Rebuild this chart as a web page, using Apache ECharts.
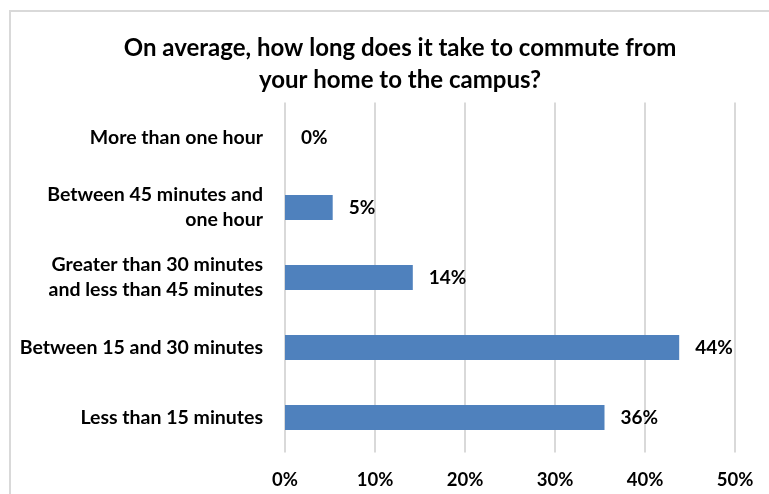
<!DOCTYPE html>
<html>
<head>
<meta charset="utf-8">
<script src="https://cdn.jsdelivr.net/npm/echarts@6/dist/echarts.min.js"></script>
<style>
html,body{margin:0;padding:0;background:#fff;}
#chart{width:769px;height:494px;}
</style>
</head>
<body>
<div id="chart"></div>
<script>
const titleText = "On average, how long does it take to commute from\nyour home to the campus?";
const categories = [
  "Less than 15 minutes",
  "Between 15 and 30 minutes",
  "Greater than 30 minutes\nand less than 45 minutes",
  "Between 45 minutes and\none hour",
  "More than one hour"
];
const values = [35.5, 43.8, 14.2, 5.3, 0];
const xTicks = [0, 10, 20, 30, 40, 50];

const FONT = "Lato";
const chart = echarts.init(document.getElementById('chart'), null, {renderer: 'canvas'});
chart.setOption({
  backgroundColor: '#ffffff',
  animation: false,
  title: {
    text: titleText,
    left: 395,
    textAlign: 'center',
    top: 27,
    textStyle: {fontFamily: FONT, fontWeight: 'bold', fontSize: 24, color: '#000', lineHeight: 32}
  },
  graphic: [{
    type: 'rect',
    shape: {x: 10, y: 11, width: 800, height: 520},
    style: {fill: 'none', stroke: '#d9d9d9', lineWidth: 2},
    silent: true
  }],
  grid: {left: 285, right: 34, top: 102.5, bottom: 41.5, containLabel: false},
  xAxis: {
    type: 'value',
    min: xTicks[0],
    max: xTicks[xTicks.length - 1],
    interval: xTicks[1] - xTicks[0],
    axisLine: {show: false},
    axisTick: {show: false},
    splitLine: {show: true, lineStyle: {color: '#d9d9d9', width: 2}},
    axisLabel: {
      formatter: '{value}%',
      fontFamily: FONT, fontWeight: 'bold', fontSize: 18.5, color: '#000', margin: 18
    }
  },
  yAxis: {
    type: 'category',
    data: categories,
    axisLine: {show: false},
    axisTick: {show: false},
    axisLabel: {
      fontFamily: FONT, fontWeight: 'bold', fontSize: 19.5, color: '#000',
      margin: 22, lineHeight: 25, align: 'right'
    }
  },
  series: [{
    type: 'bar',
    data: values,
    barWidth: 25,
    itemStyle: {color: '#4f81bd'},
    label: {
      show: true,
      position: 'right',
      distance: 16,
      formatter: p => Math.round(p.value) + '%',
      fontFamily: FONT, fontWeight: 'bold', fontSize: 19, color: '#000'
    }
  }]
});
</script>
</body>
</html>
